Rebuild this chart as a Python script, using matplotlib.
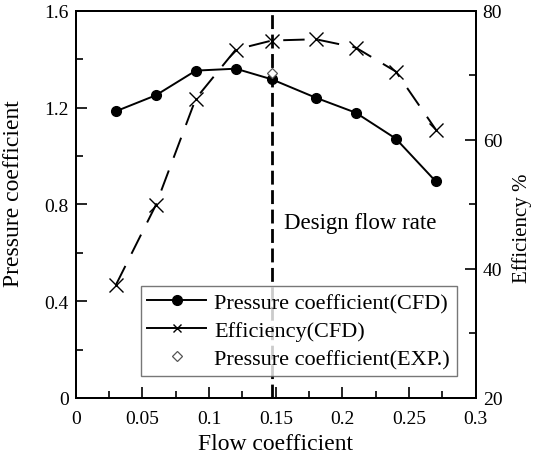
import matplotlib
matplotlib.use("Agg")
import matplotlib.pyplot as plt
from matplotlib.ticker import MultipleLocator, FormatStrFormatter
from matplotlib.lines import Line2D

plt.rcParams['font.family'] = ['Liberation Serif', 'DejaVu Serif']

# data
flow = [0.03, 0.06, 0.09, 0.12, 0.147, 0.18, 0.21, 0.24, 0.27]
pressure_cfd = [1.185, 1.251, 1.353, 1.361, 1.317, 1.241, 1.179, 1.072, 0.895]
efficiency_cfd = [37.5, 49.9, 66.4, 74.0, 75.4, 75.6, 74.3, 70.6, 61.6]
flow_exp = [0.147]
pressure_exp = [1.345]
design_flow = 0.147

fig = plt.figure(figsize=(5.34, 4.56), dpi=100)
ax = fig.add_axes([0.142, 0.125, 0.749, 0.849])
ax2 = ax.twinx()

ax.axvline(design_flow, color='black', lw=2, dashes=(5, 2), zorder=1)

ax.plot(flow, pressure_cfd, color='black', lw=1.4, marker='o', ms=7, zorder=3)
ax.plot(flow_exp, pressure_exp, ls='none', marker='D', ms=5.5, mfc='white',
        mec='#555555', mew=0.9, zorder=4)
ax2.plot(flow, efficiency_cfd, color='black', lw=1.4, dashes=(11, 7),
         marker='x', ms=10, mew=1.0)

ax.set_xlim(0, 0.3)
ax.set_ylim(0, 1.6)
ax2.set_ylim(20, 80)

ax.xaxis.set_major_locator(MultipleLocator(0.05))
ax.xaxis.set_minor_locator(MultipleLocator(0.025))
ax.yaxis.set_major_locator(MultipleLocator(0.4))
ax.yaxis.set_minor_locator(MultipleLocator(0.2))
ax2.yaxis.set_major_locator(MultipleLocator(20))
ax2.yaxis.set_minor_locator(MultipleLocator(10))
ax.xaxis.set_major_formatter(FormatStrFormatter('%g'))
ax.yaxis.set_major_formatter(FormatStrFormatter('%g'))

for a in (ax, ax2):
    a.tick_params(which='major', direction='in', length=8, width=1.2, labelsize=14, pad=5)
    a.tick_params(which='minor', direction='in', length=5, width=1.2)
    for s in a.spines.values():
        s.set_linewidth(1.4)
ax.tick_params(axis='y', which='both', right=False)
ax.tick_params(axis='x', which='both', top=False)
ax.tick_params(axis='x', which='major', pad=9)

ax.set_xlabel('Flow coefficient', fontsize=17)
ax.set_ylabel('Pressure coefficient', fontsize=17)
ax2.set_ylabel('Efficiency %', fontsize=15)
ax.xaxis.set_label_coords(0.5, -0.09)
ax.yaxis.set_label_coords(-0.13, 0.53)
ax2.yaxis.set_label_coords(1.09, 0.44)

ax.text(0.156, 0.725, 'Design flow rate', fontsize=16.5, va='center')

# legend handles with smaller markers, like the reference
h1 = Line2D([], [], color='black', lw=1.4, marker='o', ms=7)
h2 = Line2D([], [], color='black', lw=1.4, marker='x', ms=6, mew=1.0)
h3 = Line2D([], [], ls='none', marker='D', ms=5.5, mfc='white', mec='#555555', mew=0.9)
leg = ax2.legend([h1, h2, h3],
                 ['Pressure coefficient(CFD)', 'Efficiency(CFD)', 'Pressure coefficient(EXP.)'],
                 loc='lower left', bbox_to_anchor=(0.1625, 0.057), fontsize=16,
                 frameon=True, fancybox=False, edgecolor='#555555',
                 handlelength=2.65, handletextpad=0.36, borderpad=0.3,
                 labelspacing=0.34, borderaxespad=0)
leg.get_frame().set_linewidth(1.0)

fig.savefig('out.png', dpi=100)
